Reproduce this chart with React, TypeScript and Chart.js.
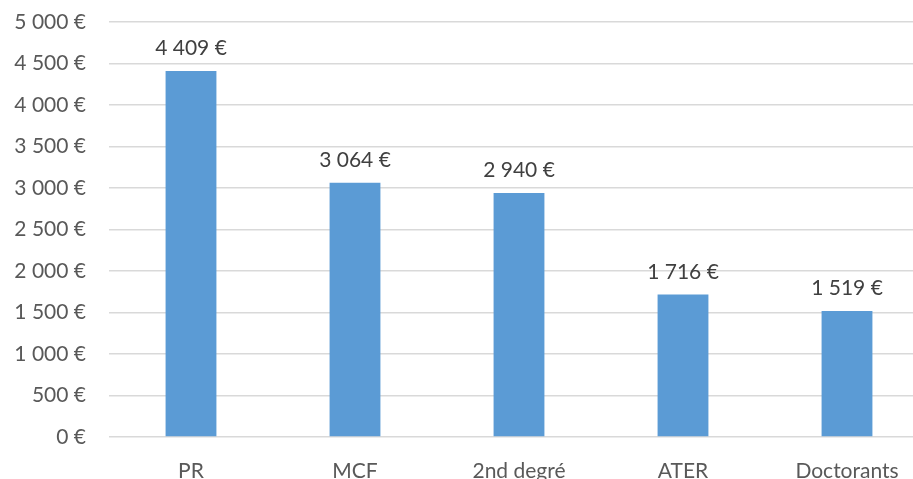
import React, { useEffect, useRef } from "react";
import { Chart, registerables } from "chart.js";

Chart.register(...registerables);

const categories = ["PR", "MCF", "2nd degré", "ATER", "Doctorants"];
const values = [4409, 3064, 2940, 1716, 1519];
const yMin = 0;
const yMax = 5000;
const yStep = 500;

const fmt = (v: number) => {
  const s = Math.round(v).toString().replace(/\B(?=(\d{3})+(?!\d))/g, " ");
  return s + " €";
};

const FONT = "Lato, 'Open Sans', sans-serif";

const labelPlugin = {
  id: "barLabels",
  afterDatasetsDraw(chart: any) {
    const ctx = chart.ctx;
    const meta = chart.getDatasetMeta(0);
    ctx.save();
    ctx.fillStyle = "#404040";
    ctx.font = `21px ${FONT}`;
    ctx.textAlign = "center";
    ctx.textBaseline = "bottom";
    meta.data.forEach((bar: any, i: number) => {
      ctx.fillText(fmt(values[i]), bar.x, bar.y - 12);
    });
    ctx.restore();
  },
};

export default function App() {
  const ref = useRef<HTMLCanvasElement>(null);
  useEffect(() => {
    if (!ref.current) return;
    const chart = new Chart(ref.current, {
      type: "bar",
      data: {
        labels: categories,
        datasets: [
          {
            data: values,
            backgroundColor: "#5B9BD5",
            barPercentage: 0.31,
            categoryPercentage: 1,
          },
        ],
      },
      options: {
        animation: false,
        responsive: false,
        maintainAspectRatio: false,
        layout: { padding: { top: 22, left: 0, right: 0, bottom: 0 } },
        plugins: { legend: { display: false }, tooltip: { enabled: false } },
        scales: {
          x: {
            grid: { display: false },
            border: { display: false },
            ticks: { color: "#595959", font: { family: FONT, size: 21 }, padding: 14 },
            afterFit: (s: any) => { s.height = 42; },
          },
          y: {
            min: yMin,
            max: yMax,
            ticks: {
              stepSize: yStep,
              color: "#595959",
              font: { family: FONT, size: 21 },
              padding: 0,
              callback: (v: any) => fmt(Number(v)),
            },
            grid: {
              color: "#D9D9D9",
              lineWidth: 1.5,
              drawTicks: true,
              tickLength: 23,
              tickColor: "rgba(0,0,0,0)",
            },
            border: { display: false },
            afterFit: (s: any) => { s.width = 109; },
          },
        },
      },
      plugins: [labelPlugin],
    });
    return () => chart.destroy();
  }, []);
  return (
    <div style={{ position: "fixed", left: 0, top: 0, width: 913, height: 479, overflow: "hidden", background: "#fff" }}>
      <canvas ref={ref} width={929} height={479} style={{ display: "block" }} />
    </div>
  );
}
